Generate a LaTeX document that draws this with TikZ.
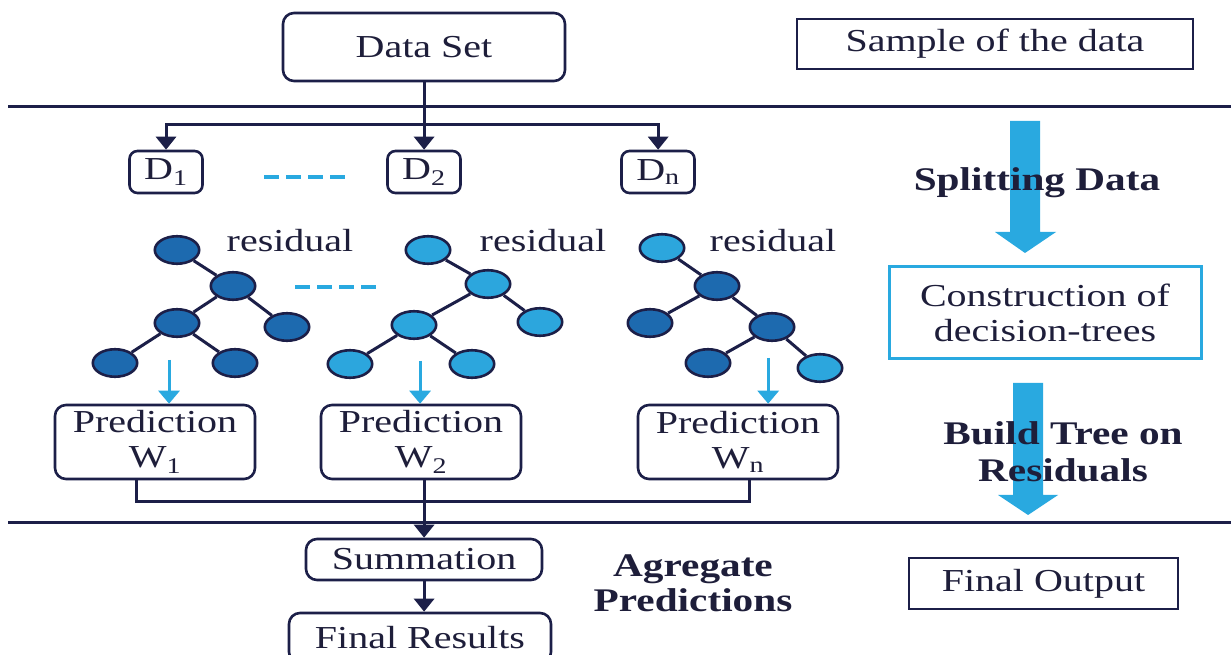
\documentclass[tikz,border=0pt]{standalone}
\usepackage{fontspec}
\setmainfont{Liberation Serif}
\usetikzlibrary{arrows.meta,shapes.geometric}
\definecolor{navy}{HTML}{1C1F48}
\definecolor{ink}{HTML}{1E1E3A}
\definecolor{sky}{HTML}{29A9E0}
\definecolor{deepnode}{HTML}{1D6AAF}
\definecolor{lightnode}{HTML}{2CA6DD}

\begin{document}
\begin{tikzpicture}[x=0.8pt,y=-1pt,xscale=1.25,
  every node/.append style={transform shape, text=ink, inner sep=0pt,
    font=\fontsize{32}{35}\selectfont},
  rbox/.style={draw=navy, line width=2.6pt, rounded corners=11pt, align=center},
  sbox/.style={draw=navy, line width=2.6pt},
  dbox/.style={rbox, rounded corners=8pt, minimum width=58.4pt, minimum height=42pt},
  pbox/.style={rbox, minimum width=160pt, minimum height=74pt},
  leaf/.style={ellipse, draw=navy, line width=2.6pt, minimum width=35.5pt, minimum height=27.5pt},
  deep/.style={leaf, fill=deepnode},
  pale/.style={leaf, fill=lightnode},
  link/.style={navy, line width=3pt},
  flow/.style={link, -{Triangle[width=20pt,length=13pt]}},
  feed/.style={sky, line width=3pt, -{Triangle[width=21pt,length=13pt]}},
  gap/.style={sky, line width=4pt, dash pattern=on 15pt off 7pt},
  head/.style={font=\bfseries\fontsize{33}{35}\selectfont, align=center},
]
\useasboundingbox[fill=white] (0,0) rectangle (1231,655);

% section separators
\coordinate (l1a) at (8,107);  \coordinate (l1b) at (1231,107);
\coordinate (l2a) at (8,523);  \coordinate (l2b) at (1231,523);
\draw[link] (l1a) -- (l1b);
\draw[link] (l2a) -- (l2b);

% big stage arrows on the right
\fill[sky] (1010,121) -- (1040,121) -- (1040,232) -- (1056,232) -- (1025,253)
  -- (995,232) -- (1010,232) -- cycle;
\fill[sky] (1013,383) -- (1043,383) -- (1043,495) -- (1058,495) -- (1028,515)
  -- (998,495) -- (1013,495) -- cycle;

% top row
\node[rbox, minimum width=225.6pt, minimum height=68pt] (ds) at (424,47) {Data Set};
\node[sbox, minimum width=316.8pt, minimum height=50pt] (smp) at (995,44) {Sample of the data};

% data subsets
\node[dbox] (d1) at (166,172) {D\textsubscript{1}};
\node[dbox] (d2) at (424,172) {D\textsubscript{2}};
\node[dbox] (dn) at (658,172) {D\textsubscript{n}};
\coordinate (split) at (424,125);
\draw[flow] (ds.south) -- (d2.north);
\draw[flow] (split) -| (d1.north);
\draw[flow] (split) -| (dn.north);
\coordinate (g1a) at (264,177); \coordinate (g1b) at (347,177);
\draw[gap] (g1a) -- (g1b);

% tree 1
\node[deep] (t1r) at (177,250) {};
\node[deep] (t1a) at (233,286) {};
\node[deep] (t1b) at (177,323) {};
\node[deep] (t1c) at (287,327) {};
\node[deep] (t1d) at (115,363) {};
\node[deep] (t1e) at (235,363) {};
\draw[link] (t1r) -- (t1a) (t1a) -- (t1b) (t1a) -- (t1c) (t1b) -- (t1d) (t1b) -- (t1e);
\node (res1) at (290,241) {residual};

% tree 2
\node[pale] (t2r) at (428,250) {};
\node[pale] (t2a) at (488,284) {};
\node[pale] (t2b) at (414,325) {};
\node[pale] (t2c) at (540,322) {};
\node[pale] (t2d) at (350,364) {};
\node[pale] (t2e) at (472,364) {};
\draw[link] (t2r) -- (t2a) (t2a) -- (t2b) (t2a) -- (t2c) (t2b) -- (t2d) (t2b) -- (t2e);
\node (res2) at (543,241) {residual};
\coordinate (g2a) at (295,287); \coordinate (g2b) at (378,287);
\draw[gap] (g2a) -- (g2b);

% tree 3
\node[pale] (t3r) at (662,248) {};
\node[deep] (t3a) at (717,286) {};
\node[deep] (t3b) at (650,323) {};
\node[deep] (t3c) at (772,327) {};
\node[deep] (t3d) at (708,363) {};
\node[pale] (t3e) at (820,368) {};
\draw[link] (t3r) -- (t3a) (t3a) -- (t3b) (t3a) -- (t3c) (t3c) -- (t3d) (t3c) -- (t3e);
\node (res3) at (773,241) {residual};

% predictions
\node[pbox] (p1) at (155,442) {Prediction\\W\textsubscript{1}};
\node[pbox] (p2) at (421,442) {Prediction\\W\textsubscript{2}};
\node[pbox] (pn) at (738,442) {Prediction\\W\textsubscript{n}};
\coordinate (f1) at (169,360);
\coordinate (f2) at (420,361);
\coordinate (f3) at (768,358);
\draw[feed] (f1) -- (f1 |- p1.north);
\draw[feed] (f2) -- (f2 |- p2.north);
\draw[feed] (f3) -- (f3 |- pn.north);

% aggregation
\node[rbox, minimum width=188.8pt, minimum height=41pt] (sum) at (424,559.5) {Summation};
\node[rbox, minimum width=209.6pt, minimum height=50pt] (fin) at (420,638) {Final Results};
\coordinate (j1) at (136,502);
\coordinate (jn) at (749,502);
\draw[link] (p1.south -| j1) -- (j1) -- (jn) -- (pn.south -| jn);
\draw[flow] (p2.south -| sum.north) -- (sum.north);
\draw[flow] (sum.south) -- (sum.south |- fin.north);

% stage labels
\node[head] (lsplit) at (1037,183) {Splitting Data};
\node[draw=sky, line width=3pt, align=center, minimum width=249.6pt, minimum height=92pt]
  (cons) at (1045,313) {Construction of\\decision-trees};
\node[head, font=\bfseries\fontsize{33}{37}\selectfont] (lbuild) at (1063,452) {Build Tree on\\Residuals};
\node[head] (lagg) at (693,583) {Agregate\\Predictions};
\node[sbox, minimum width=215.2pt, minimum height=51pt] (out) at (1043.5,583.5) {Final Output};
\end{tikzpicture}
\end{document}
